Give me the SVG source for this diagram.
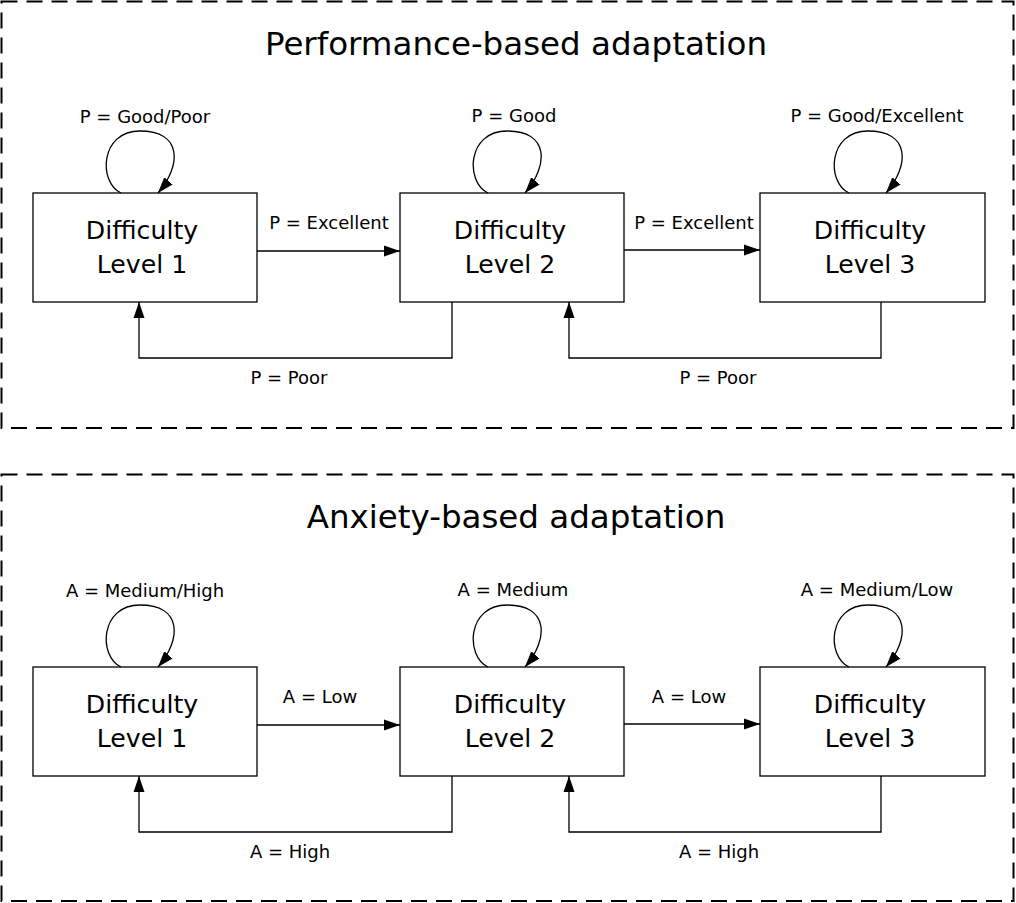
<svg xmlns="http://www.w3.org/2000/svg" width="1016" height="903" viewBox="0 0 1016 903">
<style>
.frame{fill:none;stroke:#000;stroke-width:2;stroke-dasharray:16,9}
.box{fill:#fff;stroke:#000;stroke-width:1.3}
.edge{fill:none;stroke:#000;stroke-width:1.3}
.title{font-family:"DejaVu Sans",sans-serif;font-size:32.5px;text-anchor:middle;fill:#000}
.node{font-family:"DejaVu Sans",sans-serif;font-size:25.2px;text-anchor:middle;fill:#000}
.lbl{font-family:"DejaVu Sans",sans-serif;font-size:18px;text-anchor:middle;fill:#000}
</style>
<defs>
<marker id="ah" markerWidth="17" markerHeight="12" refX="16" refY="6" orient="auto" markerUnits="userSpaceOnUse">
<path d="M0,0.5 L16,6 L0,11.5 Z" fill="#000"/>
</marker>
</defs>
<rect width="1016" height="903" fill="#fff"/>

<g id="panel-performance">
<rect class="frame" x="1.5" y="1.5" width="1012" height="426.5"/>
<text class="title" x="516" y="55">Performance-based adaptation</text>
</g>
<g id="p-node1">
<rect class="box" x="33" y="193" width="224" height="109"/>
<text class="node" x="142" y="239">Difficulty</text>
<text class="node" x="142" y="273">Level 1</text>
</g>
<g id="p-node2">
<rect class="box" x="400" y="193" width="224" height="109"/>
<text class="node" x="510" y="239">Difficulty</text>
<text class="node" x="510" y="273">Level 2</text>
</g>
<g id="p-node3">
<rect class="box" x="760" y="193" width="225" height="109"/>
<text class="node" x="870" y="239">Difficulty</text>
<text class="node" x="870" y="273">Level 3</text>
</g>

<g id="panel-anxiety">
<rect class="frame" x="1.5" y="474.5" width="1012" height="426.5"/>
<text class="title" x="516" y="528">Anxiety-based adaptation</text>
</g>
<g id="a-node1">
<rect class="box" x="33" y="667" width="224" height="109"/>
<text class="node" x="142" y="713">Difficulty</text>
<text class="node" x="142" y="747">Level 1</text>
</g>
<g id="a-node2">
<rect class="box" x="400" y="667" width="224" height="109"/>
<text class="node" x="510" y="713">Difficulty</text>
<text class="node" x="510" y="747">Level 2</text>
</g>
<g id="a-node3">
<rect class="box" x="760" y="667" width="225" height="109"/>
<text class="node" x="870" y="713">Difficulty</text>
<text class="node" x="870" y="747">Level 3</text>
</g>

<g id="connectors">
<!-- performance panel -->
<path class="edge" marker-end="url(#ah)" d="M121,193 C98,182 100,131 140,131 C182,131 182,165 158,193"/>
<path class="edge" marker-end="url(#ah)" d="M488,193 C465,182 467,131 507,131 C549,131 549,165 525,193"/>
<path class="edge" marker-end="url(#ah)" d="M849,193 C826,182 828,131 868,131 C910,131 910,165 886,193"/>
<path class="edge" marker-end="url(#ah)" d="M257,251 L400,251"/>
<path class="edge" marker-end="url(#ah)" d="M624,250 L760,250"/>
<path class="edge" marker-end="url(#ah)" d="M452,302 L452,358 L139,358 L139,302"/>
<path class="edge" marker-end="url(#ah)" d="M881,302 L881,358 L569,358 L569,302"/>
<text class="lbl" x="145" y="123">P = Good/Poor</text>
<text class="lbl" x="514" y="122">P = Good</text>
<text class="lbl" x="877" y="122">P = Good/Excellent</text>
<text class="lbl" x="329" y="229">P = Excellent</text>
<text class="lbl" x="694" y="229">P = Excellent</text>
<text class="lbl" x="289" y="384">P = Poor</text>
<text class="lbl" x="718" y="384">P = Poor</text>

<!-- anxiety panel -->
<path class="edge" marker-end="url(#ah)" d="M121,667 C98,656 100,605 140,605 C182,605 182,639 158,667"/>
<path class="edge" marker-end="url(#ah)" d="M488,667 C465,656 467,605 507,605 C549,605 549,639 525,667"/>
<path class="edge" marker-end="url(#ah)" d="M849,667 C826,656 828,605 868,605 C910,605 910,639 886,667"/>
<path class="edge" marker-end="url(#ah)" d="M257,725 L400,725"/>
<path class="edge" marker-end="url(#ah)" d="M624,724 L760,724"/>
<path class="edge" marker-end="url(#ah)" d="M452,776 L452,832 L139,832 L139,776"/>
<path class="edge" marker-end="url(#ah)" d="M881,776 L881,832 L569,832 L569,776"/>
<text class="lbl" x="145" y="597">A = Medium/High</text>
<text class="lbl" x="513" y="596">A = Medium</text>
<text class="lbl" x="877" y="596">A = Medium/Low</text>
<text class="lbl" x="320" y="703">A = Low</text>
<text class="lbl" x="689" y="703">A = Low</text>
<text class="lbl" x="290" y="858">A = High</text>
<text class="lbl" x="719" y="858">A = High</text>
</g>
</svg>
